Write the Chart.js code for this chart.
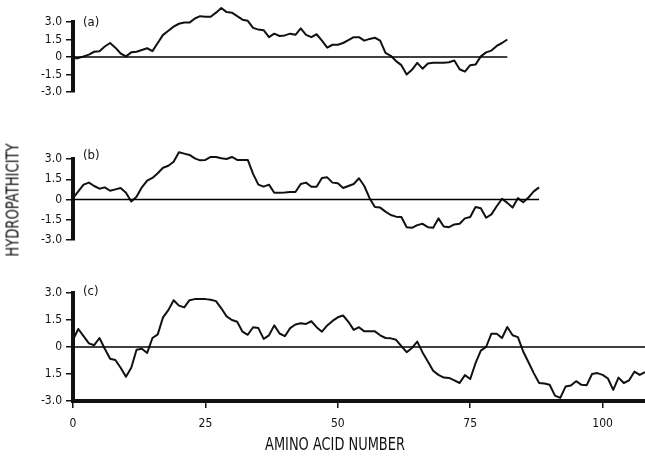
<!DOCTYPE html>
<html>
<head>
<meta charset="utf-8">
<script src="https://cdn.jsdelivr.net/npm/chart.js@4.4.1/dist/chart.umd.min.js"></script>
<style>
  html, body { margin: 0; padding: 0; background: #fff; }
  #wrap { position: relative; width: 645px; height: 456px; overflow: hidden; }
  .panel { position: absolute; left: 0; }
  .axis-title {
    position: absolute; font-family: 'DejaVu Sans Condensed', 'DejaVu Sans', sans-serif;
    color: #111; white-space: nowrap; line-height: 1;
  }
  #ytitle { left: 13px; top: 200px; font-size: 17px; transform: translate(-50%, -50%) rotate(-90deg) scaleX(0.86); }
  #xtitle { left: 335px; top: 444px; font-size: 18px; transform: translate(-50%, -50%) scaleX(0.8); }
</style>
</head>
<body>
<div id="wrap">
  <canvas id="chart-a" class="panel" width="645" height="110" style="top:0px"></canvas>
  <canvas id="chart-b" class="panel" width="645" height="125" style="top:130px"></canvas>
  <canvas id="chart-c" class="panel" width="645" height="186" style="top:270px"></canvas>
  <div id="ytitle" class="axis-title">HYDROPATHICITY</div>
  <div id="xtitle" class="axis-title">AMINO ACID NUMBER</div>
</div>
<script>
// ===================== Data =====================
// hydropathicity per residue (index = amino acid number)
const seriesA = [
  -0.1, -0.1, 0.05, 0.2, 0.45, 0.5, 0.9, 1.2, 0.8, 0.3,
  0.05, 0.4, 0.45, 0.6, 0.75, 0.5, 1.2, 1.9, 2.25, 2.6,
  2.85, 2.95, 2.95, 3.3, 3.5, 3.45, 3.45, 3.8, 4.2, 3.85,
  3.8, 3.5, 3.2, 3.1, 2.5, 2.35, 2.3, 1.7, 2.0, 1.8,
  1.85, 2.0, 1.9, 2.45, 1.9, 1.7, 1.95, 1.4, 0.8, 1.05,
  1.05, 1.2, 1.45, 1.7, 1.7, 1.4, 1.55, 1.65, 1.4, 0.35,
  0.1, -0.35, -0.7, -1.5, -1.1, -0.5, -1.0, -0.55, -0.5, -0.5,
  -0.5, -0.45, -0.3, -1.05, -1.25, -0.7, -0.65, 0.05, 0.4, 0.55,
  0.95, 1.2, 1.5
];
const seriesB = [
  0.1, 0.6, 1.1, 1.25, 1.0, 0.8, 0.9, 0.65, 0.75, 0.85,
  0.5, -0.15, 0.2, 0.9, 1.4, 1.6, 1.95, 2.35, 2.5, 2.8,
  3.5, 3.4, 3.3, 3.05, 2.9, 2.93, 3.15, 3.15, 3.05, 3.0,
  3.15, 2.93, 2.93, 2.93, 1.9, 1.1, 0.95, 1.1, 0.5, 0.5,
  0.52, 0.55, 0.55, 1.15, 1.25, 0.95, 0.95, 1.6, 1.64, 1.25,
  1.2, 0.85, 1.0, 1.15, 1.57, 1.0, 0.1, -0.55, -0.6, -0.9,
  -1.15, -1.27, -1.3, -2.05, -2.1, -1.9, -1.8, -2.05, -2.1, -1.4,
  -2.0, -2.05, -1.85, -1.8, -1.4, -1.3, -0.55, -0.65, -1.35, -1.1,
  -0.5, 0.05, -0.25, -0.6, 0.1, -0.2, 0.15, 0.6, 0.9
];
const seriesC = [
  0.4, 1.0, 0.6, 0.2, 0.1, 0.5, -0.1, -0.65, -0.72, -1.15,
  -1.65, -1.15, -0.15, -0.1, -0.33, 0.5, 0.7, 1.65, 2.05, 2.6,
  2.3, 2.2, 2.6, 2.66, 2.66, 2.66, 2.62, 2.55, 2.15, 1.7,
  1.5, 1.4, 0.85, 0.68, 1.1, 1.05, 0.45, 0.65, 1.2, 0.75,
  0.6, 1.05, 1.25, 1.32, 1.28, 1.43, 1.1, 0.85, 1.2, 1.45,
  1.65, 1.75, 1.4, 0.95, 1.1, 0.87, 0.87, 0.87, 0.65, 0.5,
  0.48, 0.4, 0.05, -0.29, -0.05, 0.3, -0.3, -0.8, -1.32, -1.55,
  -1.7, -1.72, -1.85, -2.0, -1.56, -1.78, -0.9, -0.2, 0.0, 0.74,
  0.74, 0.5, 1.11, 0.65, 0.55, -0.25, -0.85, -1.45, -2.0, -2.03,
  -2.1, -2.7, -2.83, -2.2, -2.14, -1.9, -2.1, -2.12, -1.5, -1.45,
  -1.55, -1.75, -2.38, -1.7, -2.0, -1.85, -1.37, -1.55, -1.4
];

const yTicks = [-3, -1.5, 0, 1.5, 3];
const yTickLabels = ['-3.0', '-1.5', '0', '1.5', '3.0'];
const yTickLabelsC = ['-3.0', '1.5', '0', '1.5', '3.0']; // minus sign missing in the print
const xTicks = [0, 25, 50, 75, 100];
const xTickLabels = ['0', '25', '50', '75', '100'];
const X_MAX = 108;

// ===================== Setup =====================
const FONT = "'DejaVu Sans Condensed', 'DejaVu Sans', sans-serif";
const INK = '#111';

const panelLabel = {
  id: 'panelLabel',
  afterDraw(chart, args, opts) {
    const { ctx, chartArea } = chart;
    ctx.save();
    ctx.font = '13px ' + FONT;
    ctx.fillStyle = INK;
    ctx.textBaseline = 'middle';
    ctx.fillText(opts.text, chartArea.left + 10, chartArea.top + (opts.dy || 0));
    ctx.restore();
  }
};

function toPoints(values) {
  return values.map((v, i) => ({ x: i, y: v }));
}

function makePanel(id, values, tickLabels, { label, padTop, padBottom, showX, baselineEnd, labelDy }) {
  const ctx = document.getElementById(id).getContext('2d');
  return new Chart(ctx, {
    type: 'line',
    data: {
      datasets: [
        {
          data: [{ x: 0, y: 0 }, { x: baselineEnd, y: 0 }],
          borderColor: '#000', borderWidth: 1.3, pointRadius: 0, clip: false,
        },
        {
          data: toPoints(values),
          borderColor: INK, borderWidth: 2, pointRadius: 0, tension: 0,
          borderJoinStyle: 'round', clip: false,
        },
      ],
    },
    options: {
      responsive: false,
      animation: false,
      layout: { padding: { top: padTop, bottom: padBottom, left: 0, right: 0 } },
      plugins: {
        legend: { display: false },
        tooltip: { enabled: false },
        panelLabel: { text: label, dy: labelDy },
      },
      scales: {
        x: {
          type: 'linear', min: 0, max: X_MAX,
          display: showX,
          afterFit: s => { s.height = showX ? 55 : 0; },
          afterBuildTicks: s => { s.ticks = xTicks.map(v => ({ value: v })); },
          border: { display: true, width: 4, color: INK },
          grid: { drawOnChartArea: false, drawTicks: true, tickLength: 7, color: INK, lineWidth: 1.5 },
          ticks: {
            padding: 9, color: INK, font: { family: FONT, size: 12 },
            maxRotation: 0,
            callback: v => xTickLabels[xTicks.indexOf(v)],
          },
        },
        y: {
          type: 'linear', min: -3, max: 3,
          afterFit: s => { s.width = 73; },
          afterBuildTicks: s => { s.ticks = yTicks.map(v => ({ value: v })); },
          border: { display: true, width: 4, color: INK },
          grid: { drawOnChartArea: false, drawTicks: true, tickLength: 7, color: INK, lineWidth: 1.5 },
          ticks: {
            padding: 4, color: INK, font: { family: FONT, size: 12 },
            callback: v => tickLabels[yTicks.indexOf(v)],
          },
        },
      },
    },
    plugins: [panelLabel],
  });
}

makePanel('chart-a', seriesA, yTickLabels,
  { label: '(a)', padTop: 22, padBottom: 18, showX: false, baselineEnd: 82, labelDy: 1 });
makePanel('chart-b', seriesB, yTickLabels,
  { label: '(b)', padTop: 29, padBottom: 15, showX: false, baselineEnd: 88, labelDy: -3 });
makePanel('chart-c', seriesC, yTickLabelsC,
  { label: '(c)', padTop: 23, padBottom: 0, showX: true, baselineEnd: X_MAX, labelDy: -1 });
</script>
</body>
</html>
